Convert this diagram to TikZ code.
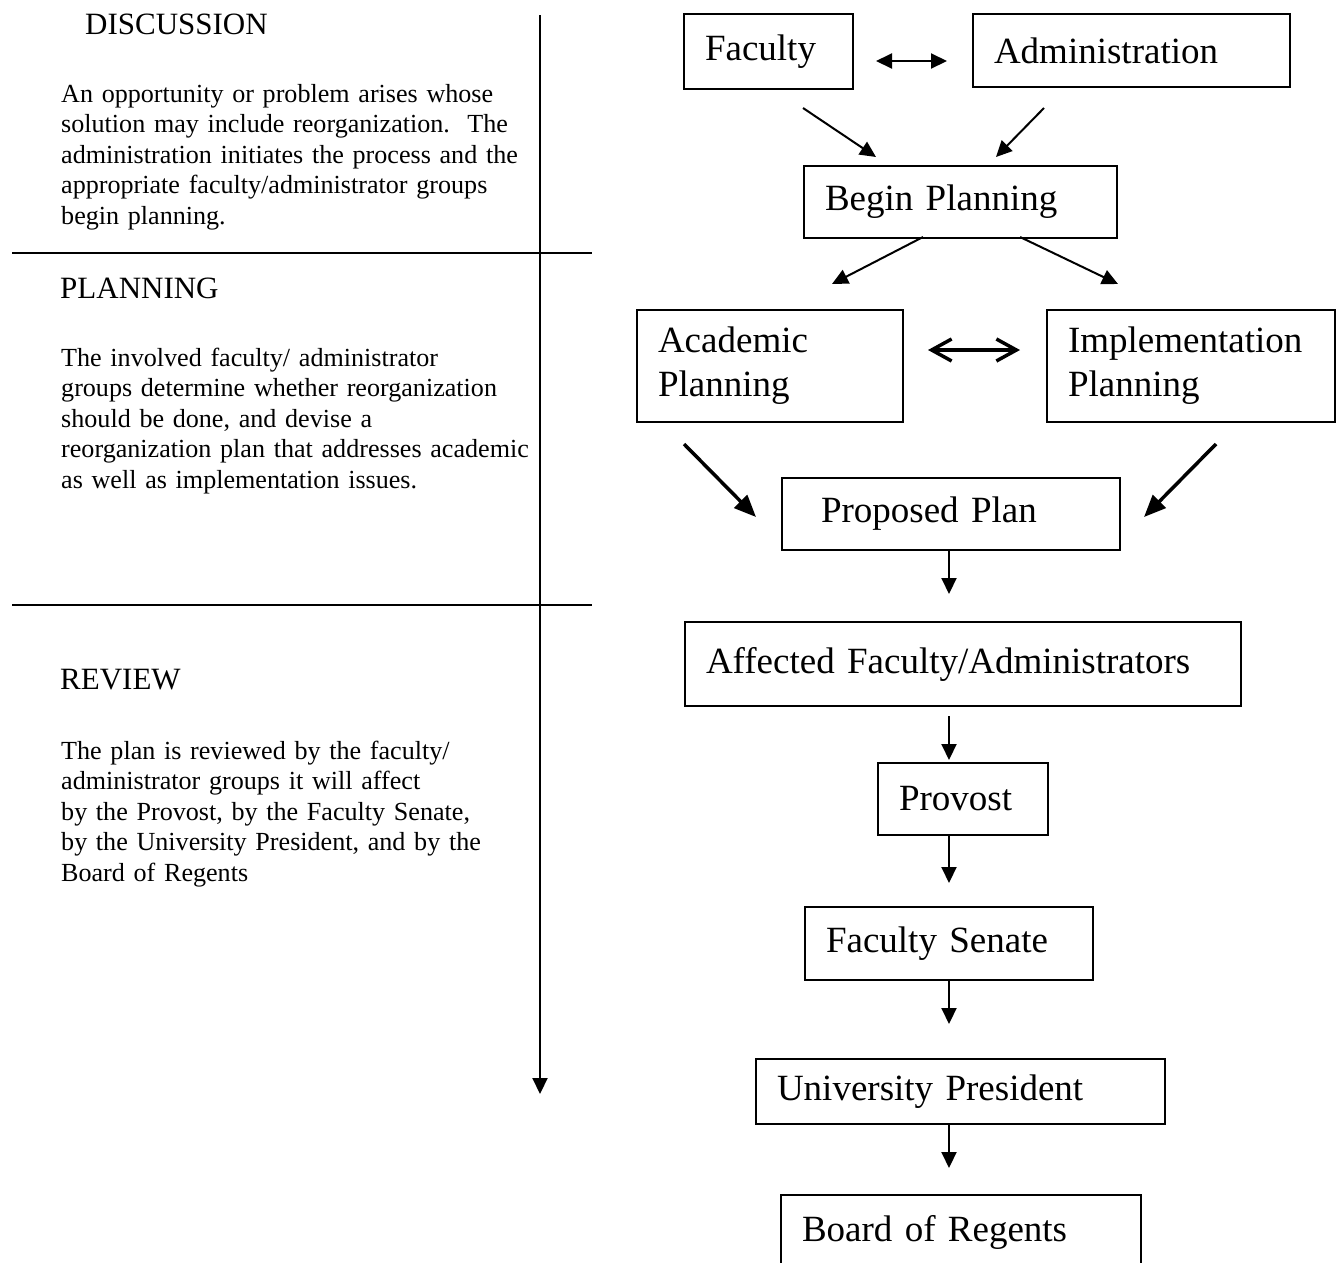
\documentclass[tikz,border=0pt]{standalone}
\usepackage{fontspec}
\setmainfont{Liberation Serif}
\usetikzlibrary{arrows.meta}

\begin{document}
\begin{tikzpicture}[x=1pt, y=-1pt, >={Triangle[length=16pt,width=15pt]},
		box/.style={draw, line width=2pt, anchor=north west, align=left, inner xsep=21pt, inner ysep=0pt, font=\fontsize{37}{44}\selectfont},
		head/.style={anchor=base west, inner sep=0pt, font=\fontsize{31}{36}\selectfont},
		body/.style={anchor=base west, inner sep=0pt, align=left, text width=500pt, font=\fontsize{26.1}{30.5}\selectfont},
		arr/.style={->, line width=2pt},
		bigarr/.style={-{Triangle[length=22pt,width=18pt]}, line width=3.5pt},
		barbs/.style={{Straight Barb[length=20pt,width=22pt]}-{Straight Barb[length=20pt,width=22pt]}, line width=3.5pt}]
	\useasboundingbox (0,0) rectangle (1338,1262);
	\clip (0,0) rectangle (1338,1262);
	% left column: phases
	\node[head] (dis) at (85,34) {DISCUSSION};
	\node[body] (dis-txt) at (61,102) {An opportunity or problem arises whose\\ solution may include reorganization.\ \ The\\ administration initiates the process and the\\ appropriate faculty/administrator groups\\ begin planning.};
	\node[head] (pla) at (60,298) {PLANNING};
	\node[body] (pla-txt) at (61,366) {The involved faculty/ administrator\\ groups determine whether reorganization\\ should be done, and devise a\\ reorganization plan that addresses academic\\ as well as implementation issues.};
	\node[head] (rev) at (60,689) {REVIEW};
	\node[body] (rev-txt) at (61,759) {The plan is reviewed by the faculty/\\ administrator groups it will affect\\ by the Provost, by the Faculty Senate,\\ by the University President, and by the\\ Board of Regents};
	\draw[line width=2pt] (12,253) -- (592,253);
	\draw[line width=2pt] (12,605) -- (592,605);
	\coordinate (time-top) at (540,15);
	\coordinate (time-end) at (540,1094);
	\draw[arr] (time-top) -- (time-end);
	% right column: flow chart
	\node[box, text width=127pt, minimum height=75pt] (fac) at (683,13) {Faculty};
	\node[box, text width=275pt, minimum height=73pt] (adm) at (972,13) {Administration};
	\node[box, text width=271pt, minimum height=72pt] (beg) at (803,165) {Begin Planning};
	\node[box, text width=224pt, minimum height=112pt] (aca) at (636,309) {Academic\\Planning};
	\node[box, text width=246pt, minimum height=112pt] (imp) at (1046,309) {Implementation\\Planning};
	\node[box, text width=296pt, minimum height=72pt] (pro) at (781,477) {\hspace*{18pt}Proposed Plan};
	\node[box, text width=514pt, minimum height=84pt] (aff) at (684,621) {\raisebox{5pt}{Affected Faculty/Administrators}};
	\node[box, text width=128pt, minimum height=72pt] (prv) at (877,762) {Provost};
	\node[box, text width=246pt, minimum height=73pt] (sen) at (804,906) {Faculty Senate};
	\node[box, text width=367pt, minimum height=65pt] (pre) at (755,1058) {University President};
	\node[box, text width=318pt, minimum height=75pt] (bor) at (780,1194) {Board of Regents};
	% arrow ends
	\coordinate (fac-r) at (876,61);   \coordinate (adm-l) at (947,61);
	\coordinate (fac-out) at (803,108); \coordinate (beg-in1) at (876,157);
	\coordinate (adm-out) at (1044,108); \coordinate (beg-in2) at (996,157);
	\coordinate (beg-out1) at (923,237); \coordinate (aca-in) at (832,284);
	\coordinate (beg-out2) at (1020,237); \coordinate (imp-in) at (1118,284);
	\coordinate (aca-r) at (928,350);  \coordinate (imp-l) at (1020,350);
	\coordinate (aca-out) at (684,444); \coordinate (pro-in1) at (756,517);
	\coordinate (imp-out) at (1216,444); \coordinate (pro-in2) at (1144,517);
	\coordinate (spine) at (949,0);
	\draw[<->, line width=2pt] (fac-r) -- (adm-l);
	\draw[arr] (fac-out) -- (beg-in1);
	\draw[arr] (adm-out) -- (beg-in2);
	\draw[arr] (beg-out1) -- (aca-in);
	\draw[arr] (beg-out2) -- (imp-in);
	\draw[barbs] (aca-r) -- (imp-l);
	\draw[bigarr] (aca-out) -- (pro-in1);
	\draw[bigarr] (imp-out) -- (pro-in2);
	\foreach \a/\b/\s/\e in {pro/aff/0pt/27pt, aff/prv/9pt/2pt, prv/sen/0pt/23pt, sen/pre/0pt/34pt, pre/bor/0pt/26pt}
		\draw[arr, shorten <=\s, shorten >=\e] (\a.south -| spine) -- (\b.north -| spine);
\end{tikzpicture}
\end{document}
